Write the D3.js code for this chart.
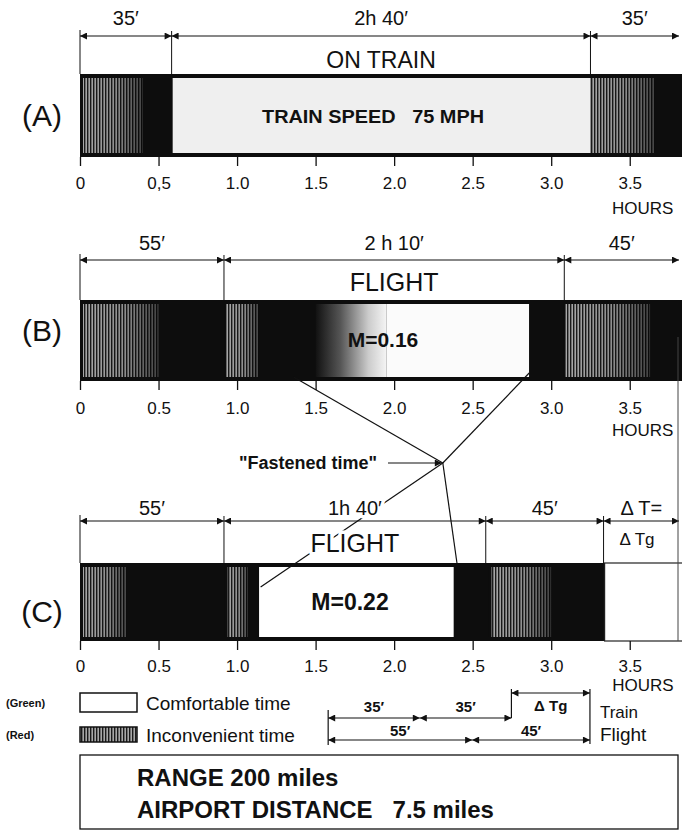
<!DOCTYPE html>
<html>
<head>
<meta charset="utf-8">
<script src="https://cdn.jsdelivr.net/npm/d3@7/dist/d3.min.js"></script>
<style>
  body { margin: 0; background: #fff; }
  text { font-family: "Liberation Sans", Arial, sans-serif; fill: #111; }
  .halo { paint-order: stroke; stroke: #fff; stroke-width: 7px; stroke-linejoin: round; }
</style>
</head>
<body>
<svg id="chart" width="682" height="832"></svg>
<script>
// ---- data ----
var tickValues  = [0, 0.5, 1.0, 1.5, 2.0, 2.5, 3.0, 3.5];
var tickLabelsA = ["0", "0,5", "1.0", "1.5", "2.0", "2.5", "3.0", "3.5"];
var tickLabelsB = ["0", "0.5", "1.0", "1.5", "2.0", "2.5", "3.0", "3.5"];
var tickLabelsC = ["0", "0.5", "1.0", "1.5", "2.0", "2.5", "3.0", "3.5"];

// door-to-door phases, minutes
var phaseMinA = [35, 160, 35];
var phaseLabA = ["35′", "2h 40′", "35′"];
var phaseMinB = [55, 130, 45];
var phaseLabB = ["55′", "2 h 10′", "45′"];
var phaseMinC = [55, 100, 45, 30];
var phaseLabC = ["55′", "1h 40′", "45′", "Δ T="];

// shading of each bar: [from h, to h, kind]
var shadeA = [[0, 0.40, "hatch"], [0.40, 0.59, "dark"], [0.59, 3.25, "comfort"],
              [3.25, 3.66, "hatch"], [3.66, 3.85, "dark"]];
var shadeB = [[0, 0.50, "hatch"], [0.50, 0.92, "dark"], [0.93, 1.14, "hatch"],
              [1.14, 1.50, "dark"], [1.50, 1.95, "fade"], [1.95, 2.86, "comfort"],
              [2.86, 3.08, "dark"], [3.09, 3.63, "hatch"], [3.63, 3.85, "dark"]];
var shadeC = [[0, 0.30, "hatch"], [0.30, 0.92, "dark"], [0.94, 1.07, "hatch"],
              [1.07, 1.14, "dark"], [1.14, 2.38, "comfort"], [2.38, 2.60, "dark"],
              [2.62, 3.00, "hatch"], [3.00, 3.34, "dark"], [3.34, 3.85, "open"]];

// comparison of the two trips, minutes
var trainLegs = [35, 35];
var trainLegLab = ["35′", "35′"];
var flightLegs = [55, 45];
var flightLegLab = ["55′", "45′"];

var infoLines = ["RANGE 200 miles", "AIRPORT DISTANCE\u00a0\u00a0 7.5 miles"];

// ---- layout ----
var svg = d3.select("#chart");
var x = d3.scaleLinear().domain([0, 3.82]).range([80, 680]);
var xmax = 679;

var defs = svg.append("defs");
defs.append("marker")
    .attr("id", "arr")
    .attr("viewBox", "0 0 10 10")
    .attr("refX", 10).attr("refY", 5)
    .attr("markerUnits", "userSpaceOnUse")
    .attr("markerWidth", 8).attr("markerHeight", 7)
    .attr("orient", "auto-start-reverse")
    .append("path").attr("d", "M0,0 L10,5 L0,10 z").attr("fill", "#111");

var hatch = defs.append("pattern")
    .attr("id", "hatch").attr("patternUnits", "userSpaceOnUse")
    .attr("width", 3).attr("height", 10);
hatch.append("rect").attr("width", 3).attr("height", 10).attr("fill", "#a8a8a8");
hatch.append("rect").attr("width", 1.4).attr("height", 10).attr("fill", "#1a1a1a");

var hs = defs.append("linearGradient").attr("id", "hatchShade");
hs.append("stop").attr("offset", "0%").attr("stop-color", "#000").attr("stop-opacity", 0);
hs.append("stop").attr("offset", "55%").attr("stop-color", "#000").attr("stop-opacity", 0.15);
hs.append("stop").attr("offset", "100%").attr("stop-color", "#000").attr("stop-opacity", 0.6);

var fg = defs.append("linearGradient").attr("id", "fade");
fg.append("stop").attr("offset", "0%").attr("stop-color", "#111");
fg.append("stop").attr("offset", "35%").attr("stop-color", "#555");
fg.append("stop").attr("offset", "75%").attr("stop-color", "#ccc");
fg.append("stop").attr("offset", "100%").attr("stop-color", "#f4f4f4");

var rows = [
  { id: "(A)", idY: 126, title: "ON TRAIN", titleSize: 23, titleY: 68,
    mins: phaseMinA, labs: phaseLabA, shade: shadeA, ticks: tickLabelsA,
    dimY: 36, dimLabY: 25, top: 74, bot: 157, tickY: 189, hoursY: 214, comfort: "#efefef" },
  { id: "(B)", idY: 341, title: "FLIGHT", titleSize: 25, titleY: 291,
    mins: phaseMinB, labs: phaseLabB, shade: shadeB, ticks: tickLabelsB,
    dimY: 260, dimLabY: 250, top: 300, bot: 381, tickY: 414, hoursY: 436, comfort: "#fbfbfb" },
  { id: "(C)", idY: 622, title: "FLIGHT", titleSize: 25, titleY: 552,
    mins: phaseMinC, labs: phaseLabC, shade: shadeC, ticks: tickLabelsC,
    dimY: 521, dimLabY: 515, top: 563, bot: 641, tickY: 672, hoursY: null, comfort: "#fff" }
];

var barLayer = svg.append("g");
var lineLayer = svg.append("g");
var textLayer = svg.append("g");

rows.forEach(function (r) {
  var g = barLayer.append("g");
  var solidEnd = d3.max(r.shade.filter(function (s) { return s[2] !== "open"; }), function (s) { return s[1]; });

  // black outline of the bar
  g.append("rect")
      .attr("x", x(0)).attr("y", r.top)
      .attr("width", x(solidEnd) - x(0)).attr("height", r.bot - r.top)
      .attr("fill", "#0d0d0d");

  r.shade.forEach(function (s) {
    var x0 = x(s[0]) + (s[0] === 0 ? 3 : 0), x1 = x(s[1]);
    var inset = s[2] === "open" ? 0 : 4;
    var seg = g.append("rect")
        .attr("x", x0).attr("y", r.top + inset)
        .attr("width", x1 - x0).attr("height", r.bot - r.top - 2 * inset);
    if (s[2] === "hatch") {
      seg.attr("fill", "url(#hatch)");
      g.append("rect")
          .attr("x", x0).attr("y", r.top + inset)
          .attr("width", x1 - x0).attr("height", r.bot - r.top - 2 * inset)
          .attr("fill", "url(#hatchShade)");
    } else if (s[2] === "dark") {
      seg.attr("fill", "#0d0d0d");
    } else if (s[2] === "fade") {
      seg.attr("fill", "url(#fade)");
    } else if (s[2] === "comfort") {
      seg.attr("fill", r.comfort);
    } else {
      seg.attr("fill", "#fff").attr("stroke", "#222").attr("stroke-width", 1.2);
    }
  });

  // axis under the bar
  var ax = g.append("g")
      .attr("transform", "translate(0," + r.bot + ")")
      .call(d3.axisBottom(x).tickValues(tickValues)
            .tickFormat(function (d, i) { return r.ticks[i]; })
            .tickSize(9));
  ax.select(".domain").remove();
  ax.selectAll(".tick line").attr("stroke", "#111").attr("stroke-width", 1.3);
  ax.selectAll(".tick text")
      .attr("dy", null).attr("y", r.tickY - r.bot)
      .attr("font-size", 17).attr("fill", "#111")
      .style("font-family", "'Liberation Sans', Arial, sans-serif");
  if (r.hoursY) {
    textLayer.append("text").attr("x", x(3.5) + 13).attr("y", r.hoursY)
        .attr("text-anchor", "middle").attr("font-size", 17).text("HOURS");
  }

  // dimension line with phase lengths
  var acc = 0;
  r.mins.forEach(function (m, i) {
    var t0 = acc / 60, t1 = (acc + m) / 60;
    acc += m;
    var xa = x(t0), xb = Math.min(x(t1), xmax);
    lineLayer.append("line")
        .attr("x1", xa).attr("x2", xb).attr("y1", r.dimY).attr("y2", r.dimY)
        .attr("stroke", "#111").attr("stroke-width", 1.2)
        .attr("marker-start", "url(#arr)").attr("marker-end", "url(#arr)");
    textLayer.append("text")
        .attr("class", "halo")
        .attr("x", (xa + xb) / 2).attr("y", r.dimLabY)
        .attr("text-anchor", "middle").attr("font-size", 20)
        .text(r.labs[i]);
    if (xb < xmax) {
      lineLayer.append("line")
          .attr("x1", xb).attr("x2", xb)
          .attr("y1", r.dimY - 5).attr("y2", i === 2 && r.mins.length === 4 ? r.bot : r.top)
          .attr("stroke", "#111").attr("stroke-width", 1);
    }
  });
  lineLayer.append("line")
      .attr("x1", x(0)).attr("x2", x(0)).attr("y1", r.dimY - 6).attr("y2", r.top)
      .attr("stroke", "#111").attr("stroke-width", 1);

  textLayer.append("text")
      .attr("class", "halo")
      .attr("x", (x(r.mins[0] / 60) + x((r.mins[0] + r.mins[1]) / 60)) / 2)
      .attr("y", r.titleY).attr("text-anchor", "middle")
      .attr("font-size", r.titleSize).text(r.title);

  textLayer.append("text")
      .attr("x", 42).attr("y", r.idY).attr("text-anchor", "middle")
      .attr("font-size", 30).text(r.id);
});

var A = rows[0], B = rows[1], C = rows[2];

// texts inside bars
textLayer.append("text")
    .attr("x", 373).attr("y", 123).attr("text-anchor", "middle")
    .attr("font-size", 18).attr("font-weight", "bold")
    .attr("textLength", 222).attr("lengthAdjust", "spacingAndGlyphs")
    .text("TRAIN SPEED\u00a0\u00a0 75 MPH");
textLayer.append("text")
    .attr("x", 383).attr("y", 347).attr("text-anchor", "middle")
    .attr("font-size", 21).attr("font-weight", "bold").text("M=0.16");
textLayer.append("text")
    .attr("x", 350).attr("y", 610).attr("text-anchor", "middle")
    .attr("font-size", 23).attr("font-weight", "bold").text("M=0.22");
textLayer.append("text")
    .attr("x", 637).attr("y", 545).attr("text-anchor", "middle")
    .attr("font-size", 17).text("Δ Tg");

// right edge rule and "Fastened time" leaders
lineLayer.append("line")
    .attr("x1", 678).attr("x2", 678).attr("y1", 337).attr("y2", C.bot)
    .attr("stroke", "#444").attr("stroke-width", 1);

var knot = [x(2.31), 463];
var leaders = [[x(1.36), B.bot - 4], [x(2.86), B.bot - 8], [x(1.15), 587], [x(2.40), C.top]];
leaders.forEach(function (p) {
  lineLayer.append("line")
      .attr("x1", knot[0]).attr("y1", knot[1]).attr("x2", p[0]).attr("y2", p[1])
      .attr("stroke", "#111").attr("stroke-width", 1.2);
});
lineLayer.append("line")
    .attr("x1", 388).attr("x2", knot[0] - 1).attr("y1", knot[1]).attr("y2", knot[1])
    .attr("stroke", "#111").attr("stroke-width", 1.2).attr("marker-end", "url(#arr)");
textLayer.append("text")
    .attr("x", 308).attr("y", 469).attr("text-anchor", "middle")
    .attr("font-size", 18).attr("font-weight", "bold")
    .text("\"Fastened time\"");

// legend
var legend = [["(Green)", "Comfortable time", "#fff", 693, 707, 710],
              ["(Red)", "Inconvenient time", "url(#hatch)", 727, 739, 742]];
legend.forEach(function (l) {
  textLayer.append("text").attr("x", 6).attr("y", l[4])
      .attr("font-size", 11).attr("font-weight", "bold").text(l[0]);
  barLayer.append("rect").attr("x", 80).attr("y", l[3]).attr("width", 57).attr("height", l[3] === 693 ? 19 : 15)
      .attr("fill", l[2]).attr("stroke", "#111").attr("stroke-width", 1.5);
  textLayer.append("text").attr("x", 146).attr("y", l[5])
      .attr("font-size", 19).text(l[1]);
});

// trip comparison
var cmpStart = 1.58;
var cx = function (m) { return x(cmpStart + m / 60); };
function legLine(legs, labs, y, labY) {
  var acc = 0;
  legs.forEach(function (m, i) {
    lineLayer.append("line")
        .attr("x1", cx(acc)).attr("x2", cx(acc + m)).attr("y1", y).attr("y2", y)
        .attr("stroke", "#111").attr("stroke-width", 1.2)
        .attr("marker-start", "url(#arr)").attr("marker-end", "url(#arr)");
    textLayer.append("text").attr("x", (cx(acc) + cx(acc + m)) / 2).attr("y", labY)
        .attr("text-anchor", "middle").attr("font-size", 15).attr("font-weight", "bold")
        .text(labs[i]);
    acc += m;
  });
  return acc;
}
var trainTot = legLine(trainLegs, trainLegLab, 718, 712);
var flightTot = legLine(flightLegs, flightLegLab, 740, 736);
lineLayer.append("line")
    .attr("x1", cx(trainTot)).attr("x2", cx(flightTot)).attr("y1", 693).attr("y2", 693)
    .attr("stroke", "#111").attr("stroke-width", 1.2)
    .attr("marker-start", "url(#arr)").attr("marker-end", "url(#arr)");
lineLayer.append("line").attr("x1", cx(trainTot)).attr("x2", cx(trainTot))
    .attr("y1", 689).attr("y2", 718).attr("stroke", "#111").attr("stroke-width", 1.2);
lineLayer.append("line").attr("x1", cx(flightTot)).attr("x2", cx(flightTot))
    .attr("y1", 689).attr("y2", 744).attr("stroke", "#111").attr("stroke-width", 1.2);
lineLayer.append("line").attr("x1", cx(0)).attr("x2", cx(0))
    .attr("y1", 710).attr("y2", 745).attr("stroke", "#111").attr("stroke-width", 1.2);
textLayer.append("text").attr("x", (cx(trainTot) + cx(flightTot)) / 2).attr("y", 711)
    .attr("text-anchor", "middle").attr("font-size", 15).attr("font-weight", "bold").text("Δ Tg");
textLayer.append("text").attr("x", 643).attr("y", 691)
    .attr("text-anchor", "middle").attr("font-size", 17).text("HOURS");
textLayer.append("text").attr("x", cx(flightTot) + 10).attr("y", 718)
    .attr("font-size", 17).text("Train");
textLayer.append("text").attr("x", cx(flightTot) + 10).attr("y", 741)
    .attr("font-size", 19).text("Flight");

// info box
barLayer.append("rect").attr("x", 80).attr("y", 755).attr("width", 598).attr("height", 74)
    .attr("fill", "#fff").attr("stroke", "#111").attr("stroke-width", 1.3);
infoLines.forEach(function (t, i) {
  textLayer.append("text").attr("x", 137).attr("y", 786 + i * 32)
      .attr("font-size", 24).attr("font-weight", "bold").text(t);
});
</script>
</body>
</html>
